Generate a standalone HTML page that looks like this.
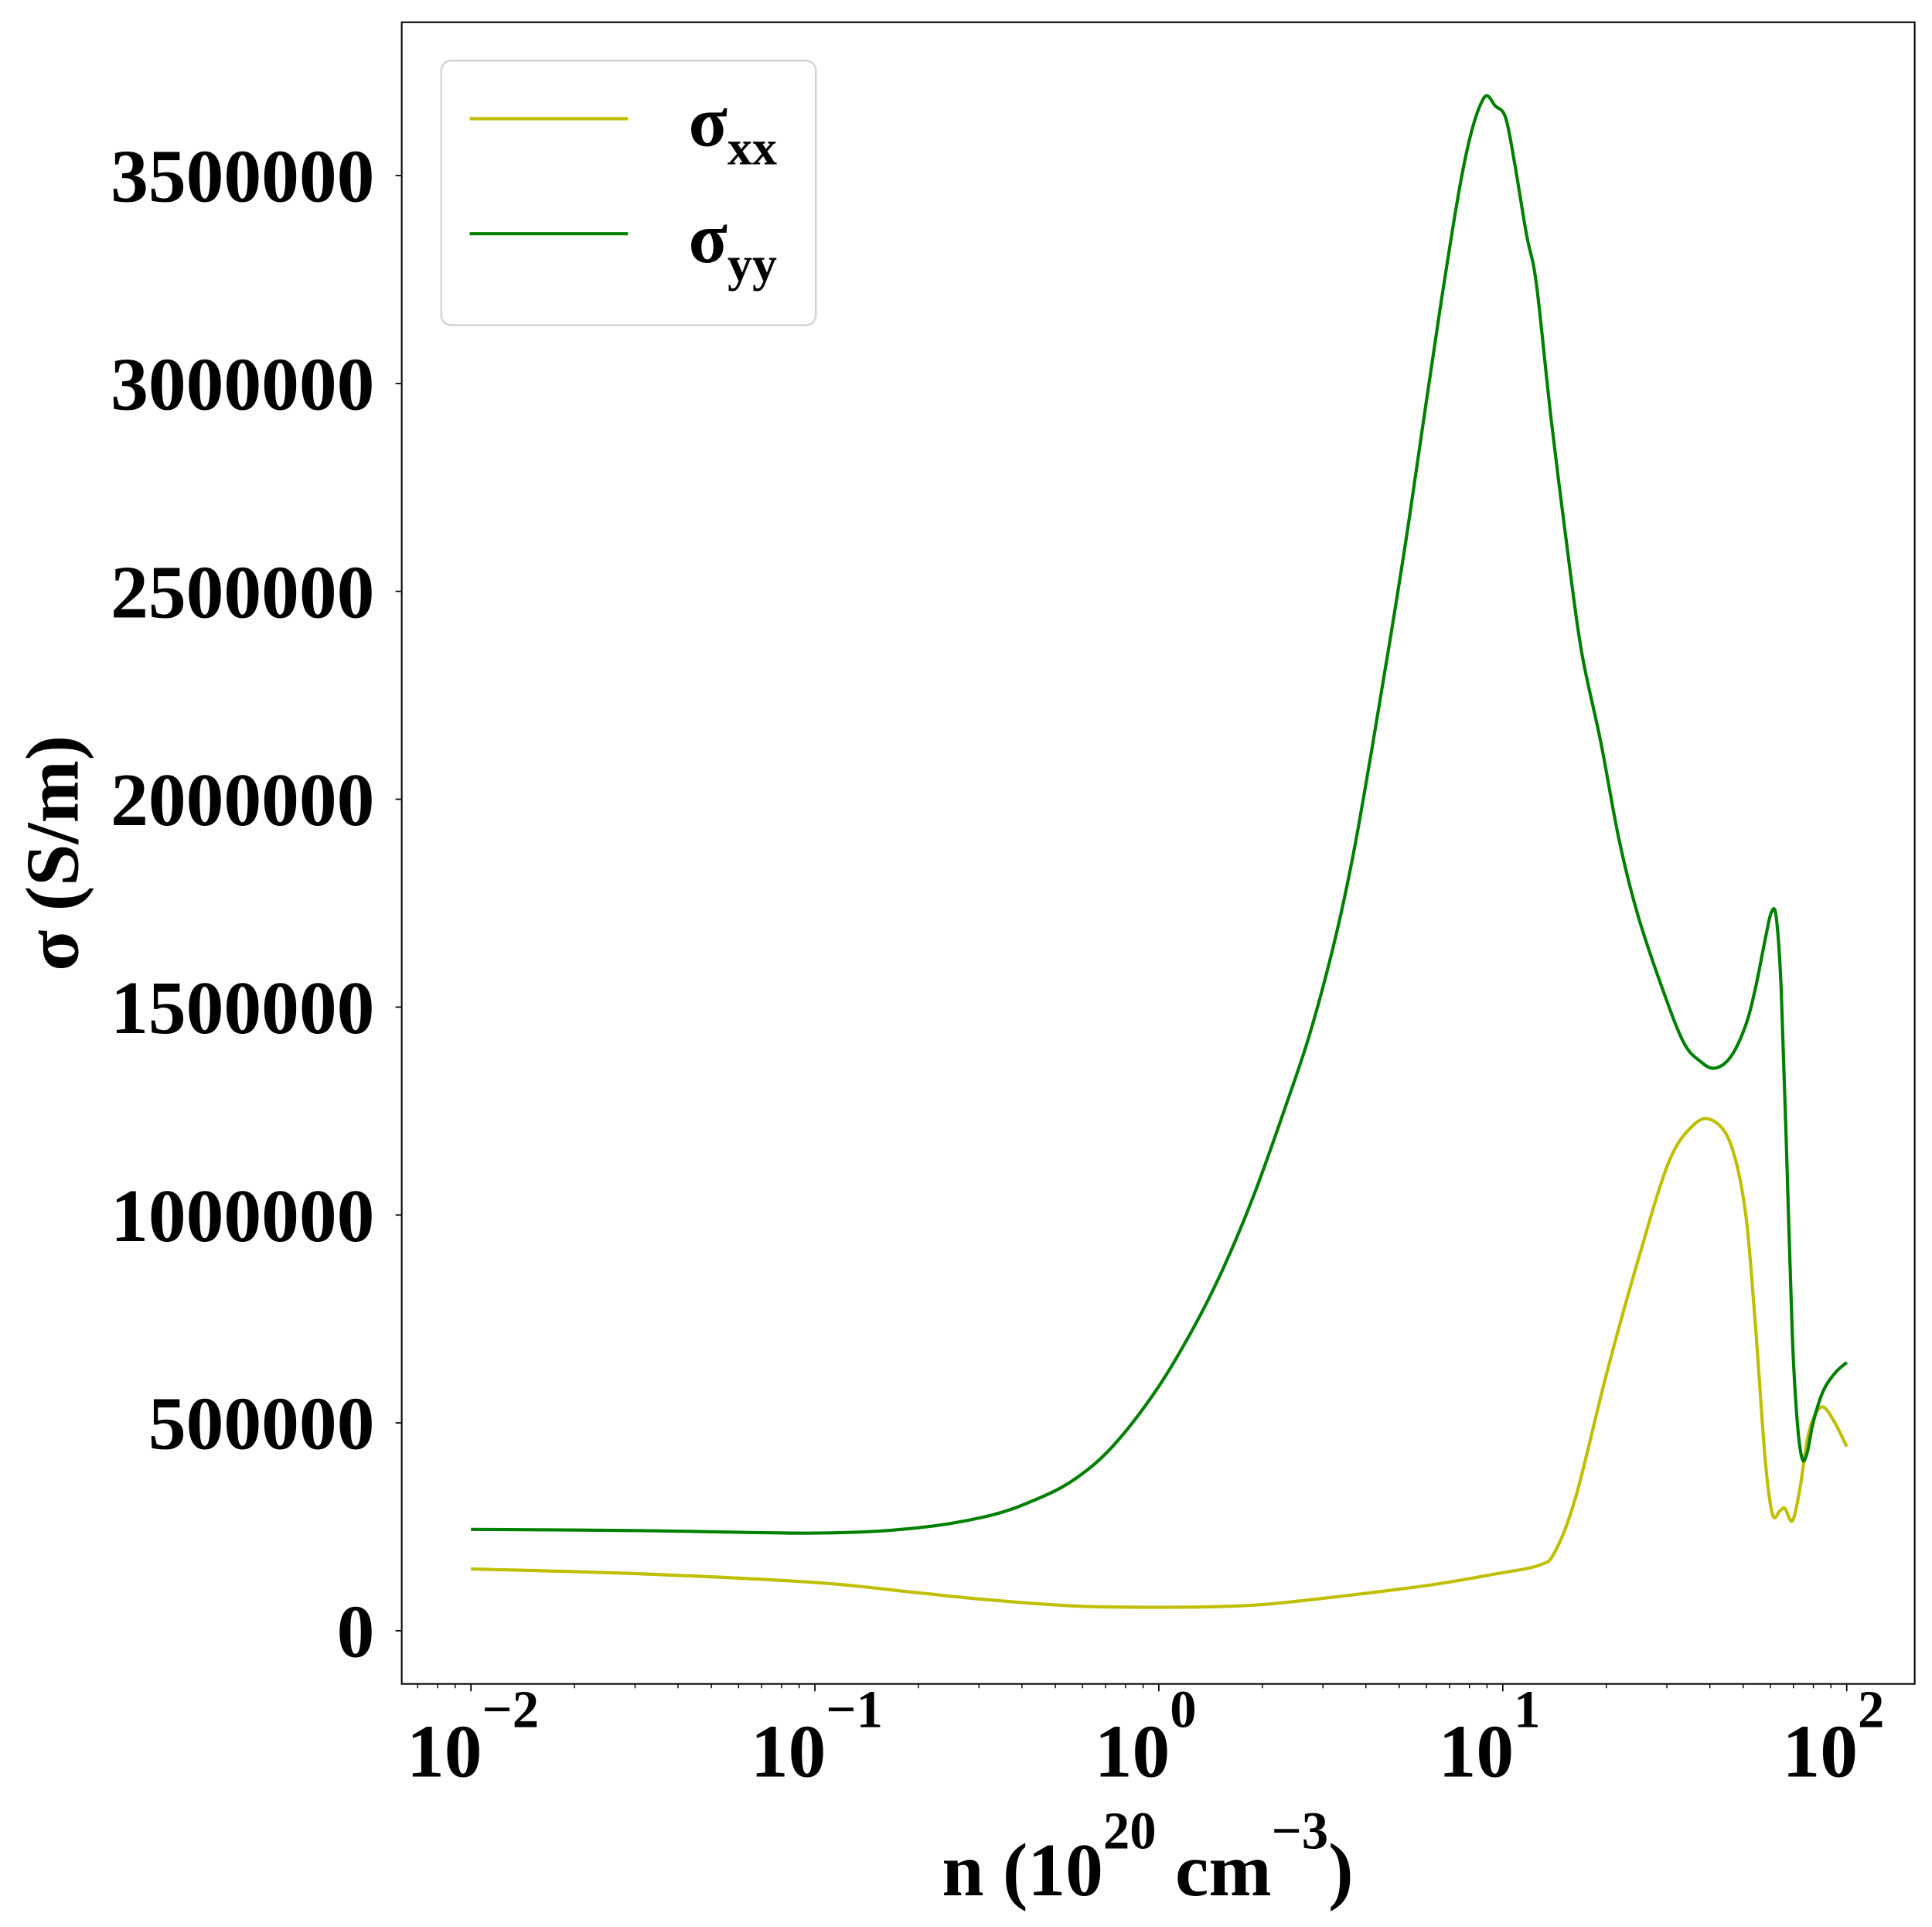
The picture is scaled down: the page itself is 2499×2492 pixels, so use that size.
<!DOCTYPE html>
<html><head><meta charset="utf-8"><style>
html,body{margin:0;padding:0;background:#fff;}
svg{display:block;}
text{font-family:"Liberation Serif","DejaVu Serif",serif;font-weight:bold;fill:#000;}
</style></head><body>
<svg id="s" width="2499" height="2492" viewBox="0 0 1563 1558.6" preserveAspectRatio="none" xmlns="http://www.w3.org/2000/svg">
<rect x="0" y="0" width="1563" height="1558.6" fill="#fff"/>
<g id="curves" fill="none" stroke-width="2.6" stroke-linejoin="round" stroke-linecap="butt"></g>
<rect x="325" y="18" width="1224" height="1344" fill="none" stroke="#000" stroke-width="1.3"/>
<g id="ticks" stroke="#000" stroke-width="1.1"></g>
<g id="labels"></g>
<rect x="357" y="49" width="303" height="214" rx="8" ry="8" fill="#fff" fill-opacity="0.8" stroke="#d5d5d5" stroke-width="1.6"/>
<line x1="380" y1="96" x2="508" y2="96" stroke="#bfbf00" stroke-width="2.6"/>
<line x1="380" y1="189" x2="508" y2="189" stroke="#008000" stroke-width="2.6"/>
<text x="557" y="118" font-size="58">σ<tspan font-size="40" dy="15">xx</tspan></text>
<text x="557" y="212" font-size="58">σ<tspan font-size="40" dy="15">yy</tspan></text>
<text x="0" y="0" font-size="61" text-anchor="middle" transform="translate(63,690) rotate(-90)">σ (S/m)</text>
<text x="762" y="1533" font-size="61">n (10<tspan font-size="43" dy="-38">20</tspan><tspan dy="38"> cm</tspan><tspan font-size="43" dy="-38">−3</tspan><tspan dy="38">)</tspan></text>
</svg>
<script>
const NS="http://www.w3.org/2000/svg";
function el(p,t,a,txt){const e=document.createElementNS(NS,t);for(const k in a)e.setAttribute(k,a[k]);if(txt!==undefined)e.textContent=txt;p.appendChild(e);return e;}
const ticks=document.getElementById('ticks'),labels=document.getElementById('labels'),curves=document.getElementById('curves');
const x0=381,dec=(1494-381)/4,L=325,R=1549,B=1362;
function X(l){return x0+(l+2)*dec;}
for(let k=-3;k<=2;k++){for(let m=1;m<=9;m++){const l=k+Math.log10(m);const x=X(l);if(x<L||x>R)continue;
 if(m===1){el(ticks,'line',{x1:x,y1:B,x2:x,y2:B+6});}
 else el(ticks,'line',{x1:x,y1:B,x2:x,y2:B+3.5,'stroke-width':0.9});}}
for(let k=-2;k<=2;k++){const x=X(k);const t=el(labels,'text',{x:x-52,y:1437,'font-size':61});
 t.appendChild(document.createTextNode('10'));el(t,'tspan',{'font-size':43,dy:-40},k<0?'−'+(-k):''+k);}
const y0=1319,dy=(1319-142)/7;
for(let i=0;i<=7;i++){const y=y0-i*dy;el(ticks,'line',{x1:L-5,y1:y,x2:L,y2:y});
 el(labels,'text',{x:303,y:y+21,'font-size':61,'text-anchor':'end'},''+(i*500000));}
function path(pts){let d='M'+pts[0][0]+','+pts[0][1];
 for(let i=0;i<pts.length-1;i++){const p0=pts[Math.max(0,i-1)],p1=pts[i],p2=pts[i+1],p3=pts[Math.min(pts.length-1,i+2)];
  const c1=[p1[0]+(p2[0]-p0[0])/6,p1[1]+(p2[1]-p0[1])/6],c2=[p2[0]-(p3[0]-p1[0])/6,p2[1]-(p3[1]-p1[1])/6];
  d+=' C'+c1+' '+c2+' '+p2;}return d;}
const G=[[381,1237],[520,1238],[660,1240],[740,1236],[800,1226],[840,1212],[870,1196],[900,1170],[935,1125],[965,1075],[990,1025],[1015,965],[1040,895],[1060,835],[1080,760],[1095,690],[1110,605],[1125,515],[1140,420],[1165,250],[1185,130],[1200,80],[1210,86],[1218,95],[1225,130],[1235,190],[1243,230],[1255,340],[1270,460],[1280,530],[1295,600],[1310,680],[1325,740],[1345,800],[1362,843],[1375,858],[1387,864],[1400,855],[1412,830],[1420,800],[1428,760],[1433,738],[1437,742],[1441,800],[1445,920],[1450,1080],[1454,1150],[1458,1180],[1462,1175],[1467,1150],[1475,1125],[1485,1110],[1494,1102]];
const Y=[[381,1269],[520,1273],[660,1280],[740,1288],[800,1294],[870,1299],[935,1300],[1000,1299],[1050,1295],[1150,1283],[1210,1273],[1245,1266],[1258,1255],[1275,1210],[1300,1110],[1325,1020],[1350,940],[1370,910],[1385,906],[1400,925],[1412,980],[1420,1070],[1428,1180],[1434,1225],[1440,1222],[1444,1220],[1450,1230],[1456,1205],[1462,1165],[1468,1145],[1475,1138],[1484,1150],[1494,1170]];
el(curves,'path',{d:path(Y),stroke:'#bfbf00'});
el(curves,'path',{d:path(G),stroke:'#008000'});
</script>
</body></html>
